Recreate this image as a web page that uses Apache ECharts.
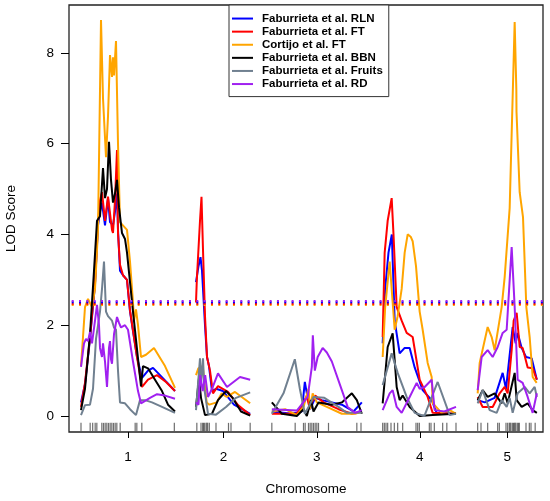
<!DOCTYPE html>
<html>
<head>
<meta charset="utf-8">
<script src="https://cdn.jsdelivr.net/npm/echarts@6/dist/echarts.min.js"></script>
<style>
  html, body { margin: 0; padding: 0; background: #fff; }
  #chart { width: 550px; height: 501px; }
</style>
</head>
<body>
<div id="chart"></div>
<script>
// chromosome layout (cM)
var chromosomes = ['1', '2', '3', '4', '5'];
var chrLengths = [113, 66, 108, 89, 71];
var chrGap = 25;
var lodTicks = [0, 2, 4, 6, 8];

// marker positions per chromosome (cM)
var markers = [
  [0, 11, 14, 17, 19, 25, 27, 29, 31, 33, 35, 37, 39, 41, 43, 47, 65, 67, 73, 112],
  [1, 6, 8, 9, 10, 12, 13, 14, 16, 24, 39, 42, 65],
  [0, 28, 38, 40, 44, 46, 48, 50, 52, 54, 56, 68, 102, 107],
  [0, 2, 4, 6, 10, 14, 18, 24, 40, 42, 44, 56, 58, 62, 72, 77, 88],
  [0, 4, 12, 24, 26, 34, 36, 38, 39, 40, 42, 43, 44, 45, 46, 48, 49, 50, 58, 62, 64, 69]
];

// significance thresholds (LOD)
var thresholds = [2.445, 2.475, 2.505, 2.533];

var seriesNames = ['Faburrieta et al. RLN', 'Faburrieta et al. FT', 'Cortijo et al. FT',
  'Faburrieta et al. BBN', 'Faburrieta et al. Fruits', 'Faburrieta et al. RD'];

// LOD profiles, [cM, LOD] per chromosome
var fabRLN = [
  [[0,0.3],[4.8,0.7],[8.4,1.3],[10.8,1.7],[16.8,2.9],[20.4,4.2],[22.8,4.5],[25.2,4.7],[28.8,4.2],[32.4,4.8],[34.8,4.27],[38.4,4.2],[40.8,4.5],[43.2,4.9],[44.4,4.1],[46.8,3.2],[50.4,3.1],[55.2,3.0],[58.8,2.3],[67.2,1.3],[73.2,0.84],[80.4,1.0],[86.4,1.06],[94.8,0.9],[112.8,0.55]],
  [[0,2.95],[3,3.3],[5.4,3.5],[7.2,3.2],[10.8,2.0],[13.2,1.3],[15.6,1.1],[19.2,0.55],[24,0.6],[32.4,0.55],[45.6,0.25],[65,0.05]],
  [[0,0.1],[24,0.05],[36,0.1],[39.6,0.75],[42,0.5],[46,0.15],[52,0.4],[60,0.35],[72,0.3],[84,0.25],[98,0.1],[108,0.3]],
  [[0,1.6],[3,2.8],[7,3.6],[11,4.0],[14.4,2.1],[20.4,1.38],[26.4,1.5],[32.4,1.5],[38.4,1.07],[48,0.57],[58.8,0.35],[64.8,0.07],[88,0.05]],
  [[0,0.35],[8.4,0.3],[20.4,0.4],[30,0.95],[34,0.6],[42,1.96],[45.6,1.6],[48,1.83],[52.8,1.5],[58,1.3],[64.8,1.27],[71,0.8]]
];
var fabFT = [
  [[0,0.2],[4.8,0.73],[10.8,1.74],[16.8,2.93],[20.4,4.25],[22.8,4.75],[25.2,4.93],[28.8,4.3],[32.4,4.83],[37.2,4.1],[38.4,4.03],[40.8,4.75],[43.2,5.86],[44.4,4.03],[46.8,3.33],[50.4,3.1],[55.2,3.0],[58.8,2.33],[67.2,1.3],[73.2,0.64],[80.4,0.8],[91.2,0.9],[102,0.75],[112.8,0.55]],
  [[0,2.5],[1,3.0],[4.8,4.3],[6.6,4.83],[8.4,3.66],[10.8,2.2],[13.2,1.3],[16.8,1.0],[20.4,0.5],[26.4,0.66],[38.4,0.53],[50.4,0.24],[65,0.02]],
  [[0,0.05],[30,0.05],[38,0.3],[42,0.45],[45,0.2],[52,0.45],[62,0.3],[80,0.15],[96,0.05],[108,0.1]],
  [[0,1.74],[2.4,3.6],[6,4.3],[10.8,4.8],[13,4.0],[16.8,2.4],[22.8,2.1],[28.8,1.83],[36,1.74],[44.4,0.8],[54,0.42],[60,0.07],[88,0.05]],
  [[0,0.42],[6,0.2],[18,0.2],[26.4,0.5],[32.4,0.64],[36,0.5],[40.8,1.45],[43.2,2.1],[46.8,2.27],[50.4,1.52],[54,1.5],[60,1.07],[66,1.05],[71,0.8]]
];
var cortijoFT = [
  [[0,1.1],[2.4,1.74],[4.8,2.4],[8.4,2.58],[13.2,2.4],[16.8,2.8],[20.4,4.1],[24,8.72],[26.4,7.0],[30,5.7],[32.4,6.6],[34.8,7.95],[37.2,7.47],[38.4,7.9],[39.6,7.5],[42,8.26],[44.4,6.0],[46.8,4.27],[49.2,4.27],[55.2,4.1],[58.8,3.4],[62.4,2.5],[63.6,2.1],[66,2.35],[68.4,2.0],[72,1.3],[78,1.35],[87.6,1.5],[100.8,1.1],[112.8,0.62]],
  [[0,0.9],[2.8,1.05],[8,1.1],[12.8,0.3],[16,0.25],[24.8,0.3],[30.8,0.5],[36.8,0.42],[46.8,0.53],[65,0.28]],
  [[0,0.1],[16,0.15],[30,0.02],[38,0.2],[44,0.6],[46,0.15],[49,0.5],[54,0.3],[66,0.2],[84,0.05],[100,0.05],[108,0.1]],
  [[0,1.3],[3,2.4],[8.4,3.4],[12,2.5],[14.4,1.9],[18,2.2],[22.8,2.8],[26.4,3.6],[30,4.0],[33.6,3.95],[36,3.85],[40,3.3],[44.4,2.3],[48,1.9],[54,1.17],[58.8,0.86],[60,0.28],[70.8,0.07],[80.4,0.13],[88,0.05]],
  [[0,0.5],[2.4,1.17],[12,1.96],[16.8,1.74],[20.4,1.45],[28.8,2.4],[32.4,3.06],[38.4,4.58],[40.4,4.6],[44.4,8.68],[46.4,7.2],[46.6,6.7],[50.4,4.93],[54.4,4.38],[58.4,2.4],[62.4,1.74],[66,0.86],[70.8,0.73]]
];
var fabBBN = [
  [[0,0.13],[4.8,0.6],[10.8,1.8],[15.6,3.2],[19.2,4.3],[22.8,4.4],[26.4,5.46],[28.8,4.8],[31.2,5.0],[33.6,6.04],[36,5.2],[38.4,4.7],[40.8,4.9],[43.2,5.2],[45.6,4.6],[49.2,4.03],[52.8,3.9],[55.2,3.6],[62.4,2.3],[72,0.65],[74.4,1.1],[80.4,1.05],[88.8,0.8],[97.2,0.55],[104.4,0.25],[112.8,0.1]],
  [[0,0.2],[3.6,0.84],[6,0.4],[10.8,0.02],[19.2,0.05],[26.4,0.35],[36,0.55],[44,0.4],[54,0.1],[65,0.01]],
  [[0,0.3],[12,0.05],[30,0],[38,0.15],[42,0.0],[47,0.35],[50,0.1],[56,0.3],[72,0.25],[84,0.3],[96,0.5],[102,0.35],[108,0.05]],
  [[0,0.28],[6,1.52],[12,1.82],[16.8,0.64],[20.4,0.35],[24,0.45],[32.4,0.2],[44.4,0.0],[60,0.02],[88,0.05]],
  [[0,0.35],[6,0.57],[12,0.42],[20.4,0.5],[28.8,0.28],[32.4,0.5],[36,0.28],[44.4,0.95],[46.8,0.35],[52.8,0.2],[60,0.28],[66,0.13],[71,0.07]]
];
var fabFruits = [
  [[0,0.02],[4.8,0.24],[10.8,0.25],[14.4,0.6],[18,1.7],[22.8,2.3],[25.2,2.8],[27.6,3.4],[30,2.3],[32.4,2.2],[34.8,2.15],[37.2,2.1],[39.6,1.95],[42,1.9],[44.4,1.0],[46.8,0.3],[52.8,0.28],[58.8,0.15],[66,0.02],[70.8,0.35],[76.8,0.35],[85.2,0.3],[97.2,0.2],[112.8,0.07]],
  [[0,0.13],[4.8,1.27],[6,0.7],[8.4,1.27],[10,0.6],[14.4,0.05],[24,0.03],[36,0.2],[48,0.4],[65,0.52]],
  [[0,0.05],[14,0.5],[27.6,1.25],[33.6,0.6],[39.6,0.05],[44,0.2],[50,0.42],[63,0.4],[80,0.2],[90,0.07],[108,0.07]],
  [[0,0.68],[10.8,1.38],[18,0.95],[28.8,0.42],[38.4,0.07],[50,0.0],[66,0.75],[80.4,0.02],[88,0.05]],
  [[0,0.28],[6,0.57],[14.4,0.13],[22.8,0.07],[28.8,0.35],[34.8,0.2],[38.4,0.4],[42,0.07],[48,0.5],[56.4,0.64],[62.4,0.5],[68.4,0.64],[71,0.42]]
];
var fabRD = [
  [[0,1.08],[3.6,1.6],[6,1.7],[8.4,1.65],[10.8,1.85],[13.2,1.6],[16.8,2.1],[19.2,2.45],[21.6,2.0],[22.8,1.5],[25.2,1.3],[26.4,1.6],[28.8,1.2],[31.2,0.64],[33.6,1.5],[34.8,1.65],[36,1.25],[37.2,1.15],[39.6,1.8],[43.2,2.18],[45.6,2.05],[48,1.95],[52.8,2.0],[56.4,1.9],[62.4,1.2],[68.4,0.55],[72,0.28],[74.4,0.25],[82.8,0.4],[91.2,0.48],[100.8,0.45],[112.8,0.38]],
  [[0,0.3],[3,0.25],[5,0.9],[8,0.55],[11,0.9],[14.4,0.42],[19.2,0.6],[26.4,0.94],[37.2,0.64],[52.8,0.86],[65,0.8]],
  [[0,0.15],[30,0.12],[43,0.42],[48,1.08],[49.2,1.78],[51.6,1.0],[55,1.3],[61,1.5],[66,1.4],[72,1.2],[84,0.57],[91,0.2],[100,0.07],[108,0.13]],
  [[0,0.13],[8.4,0.5],[12,0.57],[16.8,0.2],[22.8,0.07],[32.4,0.42],[40.8,0.73],[44.4,0.6],[50.4,0.64],[58.8,0.8],[62.4,0.13],[74,0.1],[88,0.2]],
  [[0,0.57],[4.8,1.3],[12,1.45],[18,1.3],[24,1.52],[30,1.83],[34.8,1.9],[40.8,3.72],[44.4,2.4],[48,0.8],[54,0.73],[60,0.42],[66,0.07],[71,0.5]]
];

var profiles = [fabRLN, fabFT, cortijoFT, fabBBN, fabFruits, fabRD];
var colors = ['#0000ff', '#ff0000', '#ffa500', '#000000', '#708090', '#a020f0'];
var thresholdColors = ['#ffa500', '#ff0000', '#0000ff', '#a020f0'];

// chromosome start positions on the genome axis
var chrStarts = [];
var pos = 0;
chrLengths.forEach(function(len) {
  chrStarts.push(pos);
  pos += len + chrGap;
});
var genomeEnd = chrStarts[chrStarts.length - 1] + chrLengths[chrLengths.length - 1];
var chrCenters = chrStarts.map(function(s, i) { return s + chrLengths[i] / 2; });
var xMin = -14.4, xMax = genomeEnd + 7.4;

function toGenome(perChr) {
  var out = [];
  perChr.forEach(function(pts, i) {
    if (i > 0) out.push([chrStarts[i] - chrGap / 2, '-']);
    pts.forEach(function(p) { out.push([chrStarts[i] + p[0], p[1]]); });
  });
  return out;
}

var rugData = [];
markers.forEach(function(list, i) {
  list.forEach(function(m) { rugData.push([chrStarts[i] + m, -0.25]); });
});

var font = 'Liberation Sans, Arial, Helvetica, sans-serif';
var myChart = echarts.init(document.getElementById('chart'));

var series = profiles.map(function(p, i) {
  return {
    name: seriesNames[i],
    type: 'line',
    data: toGenome(p),
    showSymbol: false,
    connectNulls: false,
    color: colors[i],
    lineStyle: { width: 2, color: colors[i] },
    z: 3 + i
  };
});

thresholds.forEach(function(t, i) {
  series.push({
    type: 'line',
    data: [[xMin, t], [xMax, t]],
    showSymbol: false,
    lineStyle: { width: 2, color: thresholdColors[i], type: [2, 5.33], dashOffset: 4.63, cap: 'butt' },
    z: 10
  });
});

series.push({
  type: 'scatter',
  data: rugData,
  symbol: 'rect',
  symbolSize: [1.2, 9],
  itemStyle: { color: '#555', opacity: 0.85 },
  z: 2
});

var option = {
  animation: false,
  textStyle: { fontFamily: font },
  grid: {
    left: 69, right: 7, top: 5, bottom: 69,
    outerBoundsMode: 'none',
    show: true, borderColor: '#222', borderWidth: 1.3
  },
  legend: {
    data: seriesNames,
    orient: 'vertical',
    left: 229,
    top: 5,
    icon: 'rect',
    itemWidth: 21,
    itemHeight: 2,
    itemGap: 0,
    padding: [7, 6, 6, 3],
    backgroundColor: '#fff',
    borderColor: '#333',
    borderWidth: 1,
    selectedMode: false,
    textStyle: {
      fontFamily: font, fontSize: 11.5, fontWeight: 'bold', color: '#000',
      lineHeight: 13.1, padding: [0, 0, 0, 4]
    },
    z: 20
  },
  xAxis: {
    type: 'value',
    min: xMin,
    max: xMax,
    name: 'Chromosome',
    nameLocation: 'middle',
    nameGap: 50,
    nameTextStyle: { fontSize: 13.5, color: '#000', fontFamily: font },
    axisLine: { show: false, onZero: false },
    splitLine: { show: false },
    axisTick: { show: true, customValues: chrCenters, length: 6, lineStyle: { color: '#000' } },
    axisLabel: {
      customValues: chrCenters,
      margin: 18,
      fontSize: 13.5,
      color: '#000',
      formatter: function(v) {
        var best = 0;
        chrCenters.forEach(function(c, i) {
          if (Math.abs(c - v) < Math.abs(chrCenters[best] - v)) best = i;
        });
        return chromosomes[best];
      }
    }
  },
  yAxis: {
    type: 'value',
    min: -0.352,
    max: 9.053,
    name: 'LOD Score',
    nameLocation: 'middle',
    nameGap: 51,
    nameTextStyle: { fontSize: 13.5, color: '#000', fontFamily: font },
    axisLine: { show: false, onZero: false },
    splitLine: { show: false },
    axisTick: { show: true, customValues: lodTicks, length: 8, lineStyle: { color: '#000' } },
    axisLabel: { customValues: lodTicks, margin: 15, fontSize: 13.5, color: '#000' }
  },
  series: series
};
myChart.setOption(option);
</script>
</body>
</html>
